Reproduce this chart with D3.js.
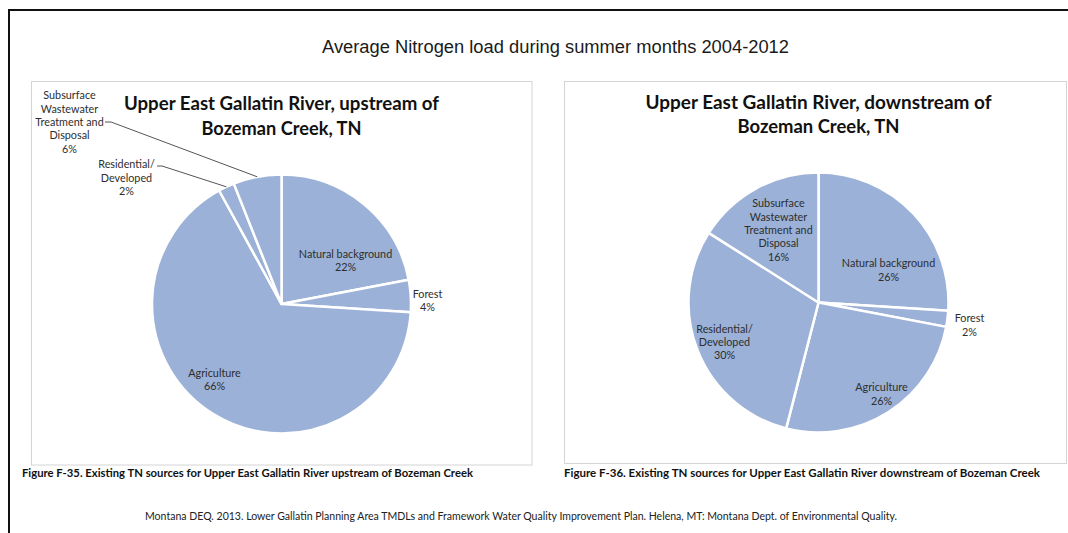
<!DOCTYPE html>
<html><head><meta charset="utf-8">
<script src="https://cdn.jsdelivr.net/npm/d3@7"></script>
<style>body{margin:0;background:#fff;overflow:hidden} svg{display:block}</style>
</head><body><svg id="c" width="1068" height="533"></svg>
<script>
// ---------- data ----------
const categories = ["Natural background", "Forest", "Agriculture", "Residential/ Developed", "Subsurface Wastewater Treatment and Disposal"];
const categoryLines = [["Natural background"], ["Forest"], ["Agriculture"], ["Residential/", "Developed"], ["Subsurface", "Wastewater", "Treatment and", "Disposal"]];
const upstreamValues = [22, 4, 66, 2, 6];
const downstreamValues = [26, 2, 26, 30, 16];
const mainTitle = "Average Nitrogen load during summer months 2004-2012";
const upstreamTitle = ["Upper East Gallatin River, upstream of", "Bozeman Creek, TN"];
const downstreamTitle = ["Upper East Gallatin River, downstream of", "Bozeman Creek, TN"];
const upstreamCaption = "Figure F-35. Existing TN sources for Upper East Gallatin River upstream of Bozeman Creek";
const downstreamCaption = "Figure F-36. Existing TN sources for Upper East Gallatin River downstream of Bozeman Creek";
const sourceText = "Montana DEQ. 2013. Lower Gallatin Planning Area TMDLs and Framework Water Quality Improvement Plan. Helena, MT: Montana Dept. of Environmental Quality.";

// ---------- layout ----------
const FILL = "#9bb1d7";
const svg = d3.select("#c");
const W = 1068, H = 533;

svg.append("rect").attr("x", 0).attr("y", 0).attr("width", W).attr("height", H).attr("fill", "#fff");
// outer frame (right and bottom sides lie outside the picture)
svg.append("path").attr("d", `M9,${H + 5} V10 H${W + 5}`)
  .attr("fill", "none").attr("stroke", "#111").attr("stroke-width", 2);

svg.append("text").attr("x", 555.5).attr("y", 53).attr("text-anchor", "middle")
  .attr("font-family", "'Liberation Sans', Arial, sans-serif").attr("font-size", 17.5)
  .attr("fill", "#1a1a1a").attr("textLength", 467).attr("lengthAdjust", "spacingAndGlyphs")
  .text(mainTitle);

const panels = [
  {
    values: upstreamValues, title: upstreamTitle, caption: upstreamCaption,
    box: [31.5, 81.5, 500.5, 383.5], cx: 281.5, cy: 304, r: 129.5,
    titleY: [110, 134.5], titleW: [315, 160],
    captionX: 22, captionY: 477, captionW: 451,
    labelPos: [[64, -44], [146, -4], [-67, 75], [-155, -127], [-212, -182.5]],
    leaders: { 3: [[-124.5, -138], [-119.5, -138]], 4: [[-176.5, -182], [-170.5, -182]] }
  },
  {
    values: downstreamValues, title: downstreamTitle, caption: downstreamCaption,
    box: [564.5, 81.5, 502, 382], cx: 818.5, cy: 302.5, r: 130,
    titleY: [108.5, 133], titleW: [346, 162],
    captionX: 564, captionY: 477, captionW: 476,
    labelPos: [[70, -33], [151, 22], [63, 91], [-94, 39], [-40, -73]],
    leaders: {}
  }
];

const pie = d3.pie().sort(null).value(d => d);

panels.forEach(p => {
  svg.append("rect").attr("x", p.box[0]).attr("y", p.box[1]).attr("width", p.box[2]).attr("height", p.box[3])
    .attr("fill", "#fff").attr("stroke", "#d4d4d4").attr("stroke-width", 1);

  const g = svg.append("g").attr("transform", `translate(${p.cx},${p.cy})`);
  const arcs = pie(p.values);
  const arc = d3.arc().innerRadius(0).outerRadius(p.r);
  const edge = d3.arc().innerRadius(p.r).outerRadius(p.r);

  g.selectAll("path.slice").data(arcs).join("path").attr("class", "slice")
    .attr("d", arc).attr("fill", FILL).attr("stroke", "#fff").attr("stroke-width", 2.5)
    .attr("stroke-linejoin", "round");

  // leader lines
  arcs.forEach((d, i) => {
    const ld = p.leaders[i];
    if (!ld) return;
    const end = edge.centroid(d);
    g.append("polyline").attr("points", [ld[0], ld[1], end].map(q => q.join(",")).join(" "))
      .attr("fill", "none").attr("stroke", "#555").attr("stroke-width", 1);
  });

  // labels
  arcs.forEach((d, i) => {
    const lines = categoryLines[i].concat([d.data + "%"]);
    const lh = 13.4;
    const [ox, oy] = p.labelPos[i];
    const t = g.append("text").attr("text-anchor", "middle")
      .attr("font-family", "Lato, 'Open Sans', sans-serif").attr("font-size", 10.8)
      .attr("fill", "#2e2e2e");
    lines.forEach((ln, k) => {
      t.append("tspan").attr("x", ox).attr("y", oy + (k - (lines.length - 1) / 2) * lh)
        .attr("dominant-baseline", "central").text(ln);
    });
  });

  // chart titles
  p.title.forEach((ln, k) => {
    svg.append("text").attr("x", p.cx).attr("y", p.titleY[k]).attr("text-anchor", "middle")
      .attr("font-family", "Lato, 'Open Sans', sans-serif").attr("font-weight", "bold")
      .attr("font-size", 18.5).attr("fill", "#111")
      .attr("textLength", p.titleW[k]).attr("lengthAdjust", "spacingAndGlyphs").text(ln);
  });

  // caption
  svg.append("text").attr("x", p.captionX).attr("y", p.captionY)
    .attr("font-family", "Lato, 'Open Sans', sans-serif").attr("font-weight", "bold")
    .attr("font-size", 12).attr("fill", "#111")
    .attr("textLength", p.captionW).attr("lengthAdjust", "spacingAndGlyphs").text(p.caption);
});

svg.append("text").attr("x", 145).attr("y", 520)
  .attr("font-family", "Lato, 'Open Sans', sans-serif").attr("font-size", 10.8).attr("fill", "#222")
  .attr("textLength", 752).attr("lengthAdjust", "spacingAndGlyphs").text(sourceText);
</script>
</body></html>
